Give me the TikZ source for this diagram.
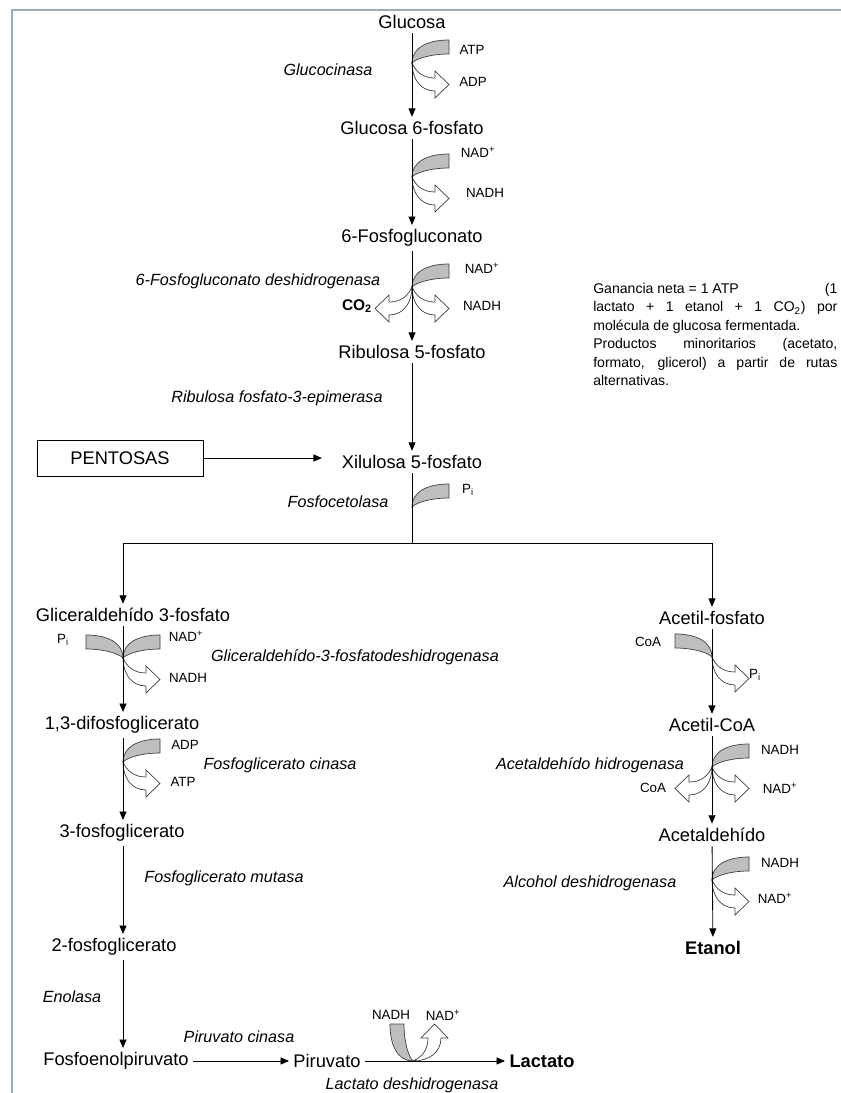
\documentclass[tikz,border=0pt]{standalone}
\usepackage{fontspec}
\setmainfont{Liberation Sans}
\usetikzlibrary{arrows.meta}

\definecolor{marco}{RGB}{150,172,192}
\definecolor{banda}{RGB}{190,190,190}

\tikzset{
  metab/.style={font=\fontsize{13}{15}\selectfont, inner sep=3pt},
  producto/.style={inner sep=3pt, font=\fontsize{13}{15}\selectfont\bfseries},
  enzima/.style={font=\fontsize{11.5}{13}\selectfont\itshape, inner sep=1pt},
  cofac/.style={font=\fontsize{9.5}{11}\selectfont, inner sep=1pt},
  caja/.style={metab, draw, line width=0.6pt, minimum width=4.15cm, minimum height=0.9cm},
  flecha/.style={line width=0.6pt, -{Triangle[length=6pt,width=5pt]}},
  linea/.style={line width=0.6pt},
  nota/.style={font=\fontsize{10}{13.1}\selectfont, text width=6.1cm, align=justify, inner sep=0pt, anchor=north west},
  entrada/.pic={
    \filldraw[fill=banda, draw=black!75, line width=0.5pt]
      (0,0) .. controls (0,-15) and (15,-23) .. (37,-23) -- (37,-9)
      .. controls (20,-9) and (5,-5) .. (0,0) -- cycle;
  },
  salida/.pic={
    \filldraw[fill=white, draw=black!75, line width=0.5pt]
      (0,0) .. controls (4,9) and (11,15) .. (23,15) -- (23,8) -- (37,21.5)
      -- (23,35) -- (23,28) .. controls (8,28) and (0,15) .. (0,0) -- cycle;
  }
}

\begin{document}
\begin{tikzpicture}[x=0.025cm, y=-0.025cm]
    \useasboundingbox (0,0) rectangle (841,1093);

    % Marco
    \draw[marco, line width=2pt] (12,1093) -- (12,10) -- (841,10);

    % Ruta central
    \node[metab] (glc) at (412,22) {Glucosa};
    \node[metab] (g6p) at (412,128) {Glucosa 6-fosfato};
    \node[metab] (pgl) at (412,238) {6-Fosfogluconato};
    \node[metab] (ru5p) at (412,352) {Ribulosa 5-fosfato};
    \node[metab] (xu5p) at (412,462) {Xilulosa 5-fosfato};
    \node[caja] (pent) at (120,458) {PENTOSAS};

    % Rama del lactato
    \node[metab] (gap) at (133,615) {Gliceraldehído 3-fosfato};
    \node[metab] (dpg) at (122,725) {1,3-difosfoglicerato};
    \node[metab] (pg3) at (122,833) {3-fosfoglicerato};
    \node[metab] (pg2) at (114,947) {2-fosfoglicerato};
    \node[metab] (pep) at (116,1061) {Fosfoenolpiruvato};
    \node[metab] (pyr) at (327,1061) {Piruvato};
    \node[producto] (lac) at (542,1061) {Lactato};

    % Rama del etanol
    \node[metab] (acp) at (712,618) {Acetil-fosfato};
    \node[metab] (accoa) at (712,725) {Acetil-CoA};
    \node[metab] (acald) at (712,835) {Acetaldehído};
    \node[producto] (etoh) at (713,948) {Etanol};

    % Nota
    \node[nota] (nota) at (593,283) {\hyphenpenalty=10000 \tolerance=10000
      Ganancia neta = 1 ATP \hfill (1\linebreak
      lactato + 1 etanol + 1 CO\textsubscript{2}) por\linebreak
      molécula de glucosa fermentada.\par
      Productos minoritarios (acetato,\linebreak
      formato, glicerol) a partir de rutas\linebreak
      alternativas.};

    % Enzimas
    \node[enzima] (gk) at (328,70) {Glucocinasa};
    \node[enzima] (pgdh) at (258,281) {6-Fosfogluconato deshidrogenasa};
    \node[enzima] (rpe) at (277,398) {Ribulosa fosfato-3-epimerasa};
    \node[enzima] (fk) at (338,502) {Fosfocetolasa};
    \node[enzima] (gapdh) at (355,657) {Gliceraldehído-3-fosfatodeshidrogenasa};
    \node[enzima] (pgk) at (280,765) {Fosfoglicerato cinasa};
    \node[enzima] (pgm) at (224,878) {Fosfoglicerato mutasa};
    \node[enzima] (eno) at (72,997) {Enolasa};
    \node[enzima] (pyk) at (239,1037) {Piruvato cinasa};
    \node[enzima] (ldh) at (412,1085) {Lactato deshidrogenasa};
    \node[enzima] (acdh) at (590,765) {Acetaldehído hidrogenasa};
    \node[enzima] (adh) at (590,883) {Alcohol deshidrogenasa};

    % Puntos de union de cofactores
    \coordinate (j1) at (412,63);
    \coordinate (j2) at (412,177);
    \coordinate (j3) at (412,287);
    \coordinate (j4) at (412,507);
    \coordinate (j5) at (123,658);
    \coordinate (j6) at (123,762);
    \coordinate (j7) at (712,657);
    \coordinate (j8) at (712,767);
    \coordinate (j9) at (712,880);
    \coordinate (j10) at (413,1061);

    % Cofactores
    \pic at (j1) {entrada};
    \pic at (j1) {salida};
    \node[cofac] (atp1) at (472,50) {ATP};
    \node[cofac] (adp1) at (473,82) {ADP};

    \pic at (j2) {entrada};
    \pic at (j2) {salida};
    \node[cofac] (nad2) at (478,152) {NAD\textsuperscript{+}};
    \node[cofac] (nadh2) at (485,193) {NADH};

    \pic at (j3) {entrada};
    \pic at (j3) {salida};
    \pic[xscale=-1] at (j3) {salida};
    \node[cofac] (nad3) at (482,268) {NAD\textsuperscript{+}};
    \node[cofac] (nadh3) at (482,306) {NADH};
    \node[cofac, font=\fontsize{11}{13}\selectfont\bfseries] (co2) at (357,306) {CO\textsubscript{2}};

    \pic at (j4) {entrada};
    \node[cofac] (pi4) at (468,490) {P\textsubscript{i}};

    \pic at (j5) {entrada};
    \pic[xscale=-1] at (j5) {entrada};
    \pic at (j5) {salida};
    \node[cofac] (pi5) at (63,640) {P\textsubscript{i}};
    \node[cofac] (nad5) at (186,636) {NAD\textsuperscript{+}};
    \node[cofac] (nadh5) at (188,678) {NADH};

    \pic at (j6) {entrada};
    \pic at (j6) {salida};
    \node[cofac] (adp6) at (185,745) {ADP};
    \node[cofac] (atp6) at (183,782) {ATP};

    \pic[xscale=-1] at (j7) {entrada};
    \pic at (j7) {salida};
    \node[cofac] (coa7) at (648,642) {CoA};
    \node[cofac] (pi7) at (755,675) {P\textsubscript{i}};

    \pic at (j8) {entrada};
    \pic at (j8) {salida};
    \pic[xscale=-1] at (j8) {salida};
    \node[cofac] (nadh8) at (780,750) {NADH};
    \node[cofac] (nad8) at (780,788) {NAD\textsuperscript{+}};
    \node[cofac] (coa8) at (653,788) {CoA};

    \pic at (j9) {entrada};
    \pic at (j9) {salida};
    \node[cofac] (nadh9) at (780,863) {NADH};
    \node[cofac] (nad9) at (775,898) {NAD\textsuperscript{+}};

    \pic[rotate=90] at (j10) {entrada};
    \pic[rotate=90] at (j10) {salida};
    \node[cofac] (nadh10) at (391,1015) {NADH};
    \node[cofac] (nad10) at (443,1015) {NAD\textsuperscript{+}};

    % Flechas ruta central
    \draw[flecha] (glc) -- (g6p);
    \draw[flecha] (g6p) -- (pgl);
    \draw[flecha] (pgl) -- (ru5p);
    \draw[flecha] (ru5p) -- (xu5p);
    \draw[flecha, shorten >=11pt] (pent.east) -- (pent.east -| xu5p.west);

    % Bifurcacion
    \coordinate (split) at (412,543);
    \coordinate (lcol) at (123,0);
    \draw[linea] (xu5p) -- (split);
    \draw[flecha] (split) -| (gap.north -| lcol);
    \draw[flecha] (split) -| (acp);

    % Flechas rama del lactato
    \draw[flecha] (gap.south -| lcol) -- (dpg.north -| lcol);
    \draw[flecha] (dpg.south -| lcol) -- (pg3.north -| lcol);
    \draw[flecha] (pg3.south -| lcol) -- (pg2.north -| lcol);
    \draw[flecha] (pg2.south -| lcol) -- (pep.north -| lcol);
    \draw[flecha] (pep) -- (pyr);
    \draw[flecha] (pyr) -- (lac);

    % Flechas rama del etanol
    \draw[flecha] (acp) -- (accoa);
    \draw[flecha] (accoa) -- (acald);
    \draw[flecha] (acald) -- (etoh);
\end{tikzpicture}
\end{document}
